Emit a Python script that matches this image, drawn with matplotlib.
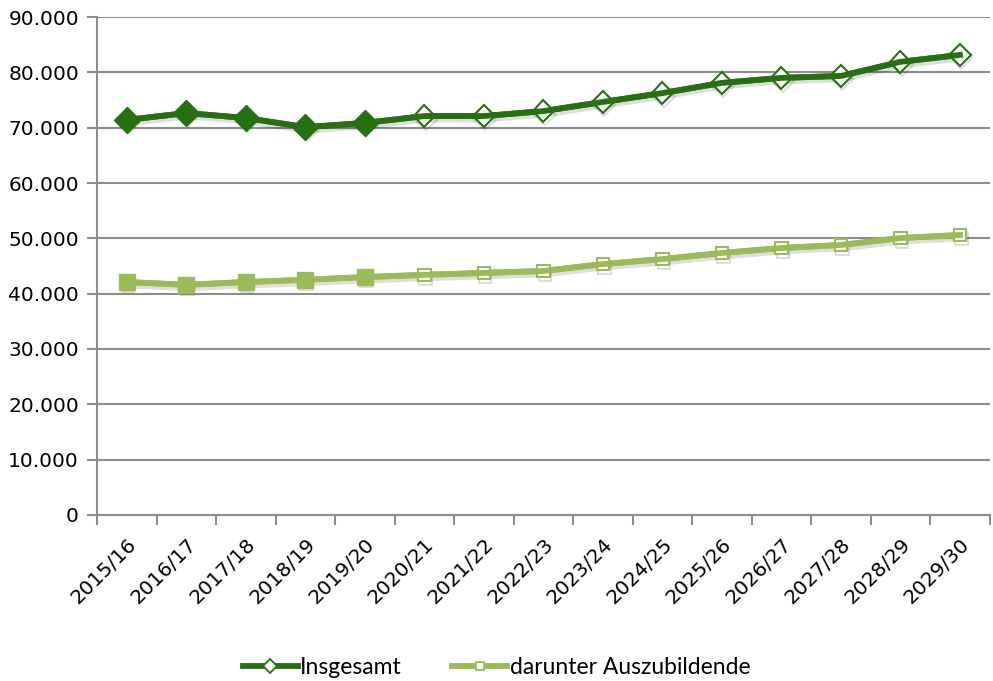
import matplotlib
matplotlib.use("Agg")
import matplotlib.pyplot as plt
import matplotlib.patheffects as pe
from matplotlib.lines import Line2D
from matplotlib.ticker import FuncFormatter, FixedLocator

years = ["2015/16", "2016/17", "2017/18", "2018/19", "2019/20", "2020/21",
         "2021/22", "2022/23", "2023/24", "2024/25", "2025/26", "2026/27",
         "2027/28", "2028/29", "2029/30"]
insgesamt = [71400, 72650, 71750, 70100, 70850, 72100, 72100, 73000,
             74650, 76250, 78100, 79000, 79350, 81900, 83150]
auszubildende = [42100, 41600, 42100, 42500, 43000, 43400, 43750, 44100,
                 45350, 46250, 47350, 48250, 48800, 50050, 50600]
n_ist = 5  # first 5 years are actual values (filled markers)

dark = "#25700f"
light = "#9bbb59"
grid_col = "#8c8c8c"

fig = plt.figure(figsize=(9.93, 6.81), dpi=100)
ax = fig.add_axes([0.0977, 0.2438, 0.899, 0.7312])

x = list(range(len(years)))
shadow = [pe.SimpleLineShadow(offset=(1.0, -2.5), alpha=0.13, shadow_color="black"),
          pe.Normal()]

ax.plot(x, insgesamt, color=dark, lw=4.2, marker="D", ms=11,
        mfc="white", mec=dark, mew=1.5, path_effects=shadow, zorder=4)
ax.plot(x, insgesamt, color=dark, lw=4.2, zorder=4.5)
ax.plot(x[:n_ist], insgesamt[:n_ist], ls="none", marker="D", ms=13,
        mfc=dark, mec=dark, zorder=5)
ax.plot(x, auszubildende, color=light, lw=4.2, marker="s", ms=9,
        mfc="white", mec=light, mew=1.5, path_effects=shadow, zorder=3)
ax.plot(x, auszubildende, color=light, lw=4.2, zorder=3.5)
ax.plot(x[:n_ist], auszubildende[:n_ist], ls="none", marker="s", ms=11,
        mfc=light, mec=light, zorder=5)

ax.set_ylim(0, 90000)
ax.set_xlim(-0.5, len(years) - 0.5)
ax.set_yticks(range(0, 90001, 10000))
ax.yaxis.set_major_formatter(FuncFormatter(lambda v, p: f"{int(v):,}".replace(",", ".")))
ax.yaxis.grid(True, color=grid_col, lw=1.5)
ax.set_axisbelow(True)

ax.set_xticks(x)
ax.set_xticklabels(years, rotation=45, ha="right", rotation_mode="anchor")
ax.xaxis.set_minor_locator(FixedLocator([i - 0.5 for i in range(len(years) + 1)]))
ax.tick_params(axis="x", which="major", length=0, pad=14, labelsize=14.5)
ax.tick_params(axis="x", which="minor", length=7, width=1.5, color=grid_col)
ax.tick_params(axis="y", length=7, width=1.5, color=grid_col, labelsize=14.5, pad=6)

for s in ["top", "right"]:
    ax.spines[s].set_visible(False)
for s in ["left", "bottom"]:
    ax.spines[s].set_color(grid_col)
    ax.spines[s].set_linewidth(1.5)

h1 = Line2D([], [], color=dark, lw=4.2, marker="D", ms=7, mfc="white", mec=dark, mew=1.3)
h2 = Line2D([], [], color=light, lw=4.2, marker="s", ms=6, mfc="white", mec=light, mew=1.3)
fig.legend(handles=[h1, h2], labels=["Insgesamt", "darunter Auszubildende"],
           loc="center", bbox_to_anchor=(0.5, 0.02),
           ncol=2, frameon=False, handlelength=2.4,
           handletextpad=0.1, columnspacing=2.2,
           prop={"family": "Lato", "size": 16.5})

fig.savefig("out.png", dpi=100)
